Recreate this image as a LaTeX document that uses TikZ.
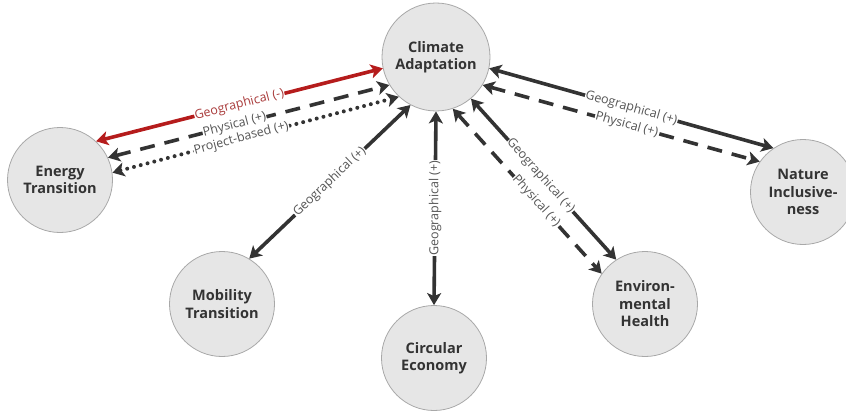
\documentclass[tikz,border=0pt]{standalone}
\usepackage{fontspec}
\setmainfont{Open Sans}
\usetikzlibrary{arrows.meta}

\definecolor{circlefill}{HTML}{E6E6E6}
\definecolor{circleline}{HTML}{A8A8A8}
\definecolor{linkgray}{HTML}{333333}
\definecolor{labelgray}{HTML}{555555}
\definecolor{linkred}{HTML}{B51C1C}
\definecolor{labelred}{HTML}{A93A3A}

\tikzset{
  topic/.style={circle, draw=circleline, fill=circlefill, line width=0.8pt,
    minimum size=105pt, inner sep=0pt, align=center, text=linkgray,
    font=\fontsize{14.5}{17.5}\selectfont\bfseries},
  link/.style={draw=linkgray, line width=3.6pt,
    {Stealth[length=12pt,width=14pt,inset=3pt]}-{Stealth[length=12pt,width=14pt,inset=3pt]}},
  redlink/.style={link, draw=linkred},
  dashlink/.style={link, dash pattern=on 15pt off 10pt},
  dotlink/.style={link, line cap=round, dash pattern=on 0pt off 7pt, line width=4pt},
  labelbase/.style={fill=white, inner sep=0.6pt, text=labelgray,
    font=\fontsize{12.5}{13}\selectfont},
  linklabel/.style={labelbase, sloped},
}

\begin{document}
\begin{tikzpicture}[x=1pt,y=-1pt]
\useasboundingbox (0,0) rectangle (846,412);

% topics
\node[topic, minimum size=108pt] (climate) at (436,57) {Climate\\Adaptation};
\node[topic] (energy) at (60,180) {Energy\\Transition};
\node[topic] (mobility) at (222,304) {Mobility\\Transition};
\node[topic] (circular) at (434,358) {Circular\\Economy};
\node[topic] (health) at (645,304) {Environ-\\mental\\Health};
\node[topic] (nature) at (803,192) {Nature\\Inclusive-\\ness};

% energy transition
\draw[redlink] (energy.47) -- node[linklabel, text=labelred] {Geographical (-)} (climate.192);
\draw[dashlink] (energy.25) -- node[linklabel, pos=0.45] {Physical (+)} (climate.211);
\draw[dotlink] (energy.8) -- node[linklabel, pos=0.45] {Project-based (+)} (climate.227);

% mobility and circular economy
\draw[link] (mobility.59) -- node[linklabel] {Geographical (+)} (climate.242);
\draw[link] (circular.north) -- node[labelbase, rotate=90] {Geographical (+)} (climate.south);

% environmental health
\draw[link] (climate.310) -- node[linklabel, pos=0.48] {Geographical (+)} (health.123);
\draw[dashlink] (climate.288) -- node[linklabel, pos=0.56] {Physical (+)} (health.145);

% nature inclusiveness
\draw[link] (climate.348) -- node[linklabel] {Geographical (+)} (nature.124);
\draw[dashlink] (climate.329) -- node[linklabel, pos=0.52] {Physical (+)} (nature.145);

\end{tikzpicture}
\end{document}
